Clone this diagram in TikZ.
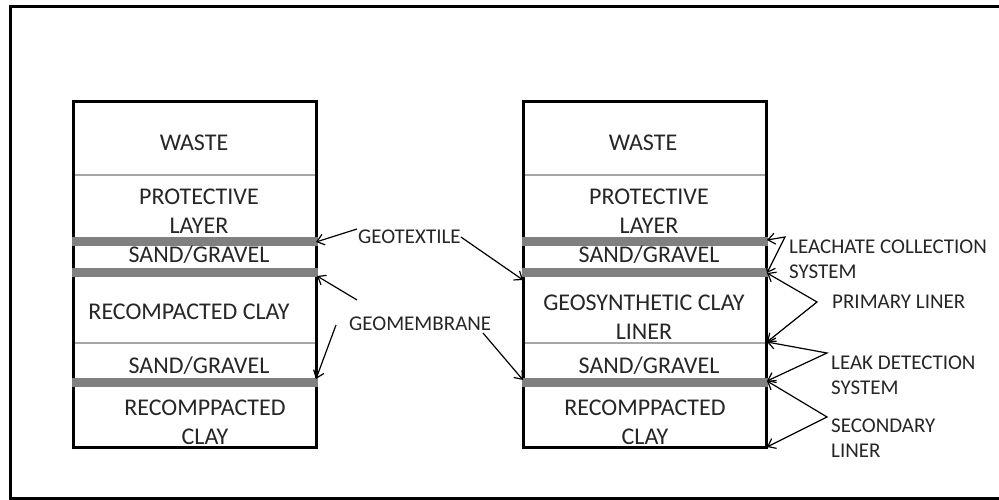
\documentclass[tikz,border=0pt]{standalone}
\usepackage{fontspec}
\setmainfont{Carlito}
\usetikzlibrary{arrows.meta}
\definecolor{bandgray}{HTML}{808080}
\definecolor{divgray}{HTML}{A6A6A6}
\definecolor{txt}{HTML}{262626}
\begin{document}
\begin{tikzpicture}[x=1pt,y=-1pt,
  frame/.style={draw=black,line width=3pt},
  column/.style={draw=black,line width=3pt,fill=white},
  band/.style={fill=bandgray,draw=none},
  divider/.style={draw=divgray,line width=1.5pt},
  layertext/.style={font=\fontsize{24}{29}\selectfont,text=txt,align=center,inner sep=0pt},
  oneline/.style={text depth=0pt},
  labeltext/.style={font=\fontsize{21}{25}\selectfont,text=txt,align=left,inner sep=0pt,anchor=west},
  pointer/.style={draw=black,line width=1.2pt,-{Straight Barb[length=7pt,width=11pt]}},
  bracket/.style={draw=black,line width=1.2pt,{Straight Barb[length=7pt,width=11pt]}-{Straight Barb[length=7pt,width=11pt]},line join=miter}
]
\useasboundingbox (0,0) rectangle (999,500);
\fill[white] (0,0) rectangle (999,500);
% outer frame (right side lies outside the picture)
\draw[frame] (10,7) rectangle (1020,498);

% ---------- left column ----------
\draw[column] (73,102) rectangle (316,447);
\draw[divider] (74.5,175) -- (314.5,175);
\draw[divider] (74.5,343) -- (314.5,343);
\fill[band] (71.5,237) rectangle (317.5,245.5);
\fill[band] (71.5,268) rectangle (317.5,276.5);
\fill[band] (71.5,378) rectangle (317.5,386.5);
\node[layertext,oneline] (lwaste) at (194,143) {WASTE};
\node[layertext] (lprot) at (199,211.5) {PROTECTIVE\\LAYER};
\node[layertext,oneline] (lsand1) at (199,254) {SAND/GRAVEL};
\node[layertext,oneline] (lclay) at (189,312) {RECOMPACTED CLAY};
\node[layertext,oneline] (lsand2) at (199,365) {SAND/GRAVEL};
\node[layertext] (lbot) at (205,422) {RECOMPPACTED\\CLAY};

% ---------- right column ----------
\draw[column] (523,102) rectangle (766,447);
\draw[divider] (524.5,175) -- (764.5,175);
\draw[divider] (524.5,343) -- (764.5,343);
\fill[band] (521.5,237) rectangle (767.5,245.5);
\fill[band] (521.5,268) rectangle (767.5,276.5);
\fill[band] (521.5,378) rectangle (767.5,386.5);
\node[layertext,oneline] (rwaste) at (643,143) {WASTE};
\node[layertext] (rprot) at (649,211.5) {PROTECTIVE\\LAYER};
\node[layertext,oneline] (rsand1) at (649,254) {SAND/GRAVEL};
\node[layertext] (rgcl) at (644,317) {GEOSYNTHETIC CLAY\\LINER};
\node[layertext,oneline] (rsand2) at (649,365) {SAND/GRAVEL};
\node[layertext] (rbot) at (645,422) {RECOMPPACTED\\CLAY};

% ---------- labels ----------
\node[labeltext,oneline] (geotex) at (358,237) {GEOTEXTILE};
\node[labeltext,oneline] (geomem) at (349,324) {GEOMEMBRANE};
\node[labeltext] (lcs) at (789,259.5) {LEACHATE COLLECTION\\SYSTEM};
\node[labeltext,oneline] (prim) at (832,302) {PRIMARY LINER};
\node[labeltext] (lds) at (831,375.5) {LEAK DETECTION\\SYSTEM};
\node[labeltext] (sec) at (831,438) {SECONDARY\\LINER};

% ---------- arrow end points ----------
\coordinate (lgtx) at (316,242);
\coordinate (lgm1) at (317,276);
\coordinate (lgm2) at (316,379);
\coordinate (rgtx) at (523,280);
\coordinate (rgm) at (523,380);
\coordinate (gtxA) at (357,229);
\coordinate (gmA) at (357,300);
\coordinate (gmB) at (336,325);
\coordinate (gmC) at (483,333);
\coordinate (rb1) at (767,240);
\coordinate (rb2) at (767,273);
\coordinate (rb3) at (767,342);
\coordinate (rb4) at (767,381);
\coordinate (rb5) at (767,447);
\coordinate (apexL) at (785,237);
\coordinate (apexP) at (817,302);
\coordinate (apexD) at (827,353);
\coordinate (apexS) at (827,417);

% ---------- connectors ----------
\draw[pointer] (gtxA) -- (lgtx);
\draw[pointer] (geotex.east) -- (rgtx);
\draw[pointer] (gmA) -- (lgm1);
\draw[pointer] (gmB) -- (lgm2);
\draw[pointer] (gmC) -- (rgm);
\draw[bracket] (rb1) -- (apexL) -- (rb2);
\draw[bracket] (rb2) -- (apexP) -- (rb3);
\draw[bracket] (rb3) -- (apexD) -- (rb4);
\draw[bracket] (rb4) -- (apexS) -- (rb5);
\end{tikzpicture}
\end{document}
